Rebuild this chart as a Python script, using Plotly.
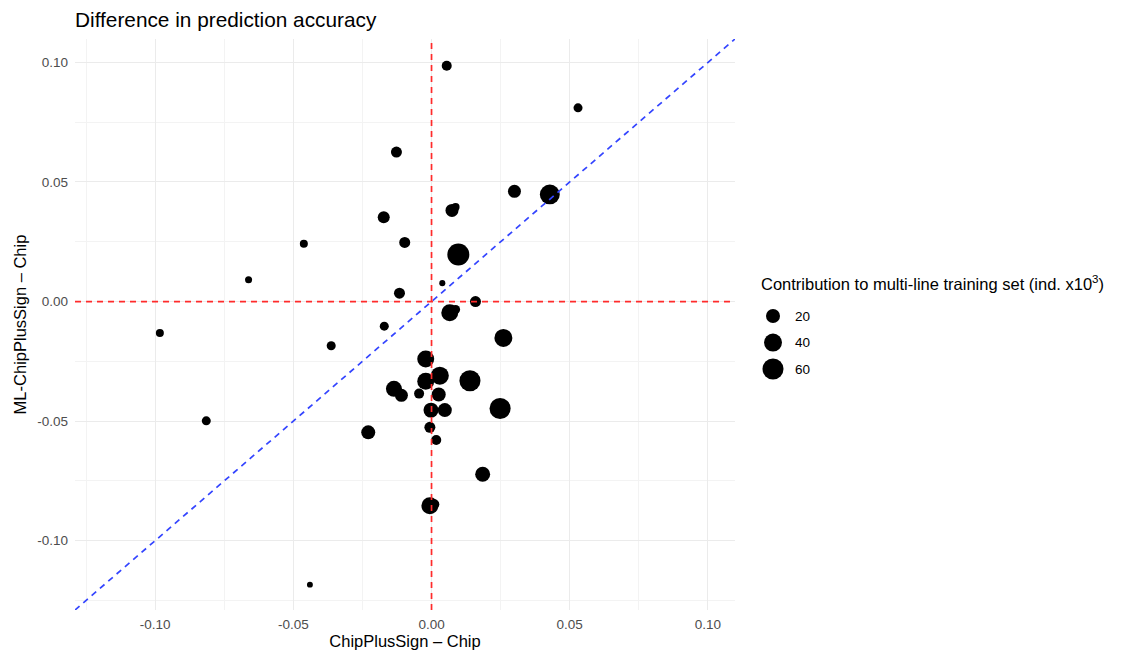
import numpy as np
import plotly.graph_objects as go

# ---- data ----
x_diff = [0.0055, 0.0530, -0.0127, 0.0300, 0.0428, -0.0173, 0.0074, 0.0087,
          -0.0462, -0.0097, 0.0097, -0.0662, 0.0039, -0.0116, 0.0159, 0.0066,
          0.0087, -0.0171, -0.0983, -0.0363, 0.0260, -0.0021, 0.0030, 0.0139,
          -0.0021, -0.0136, -0.0109, -0.0045, 0.0026, -0.0002, 0.0048, 0.0248,
          -0.0815, -0.0229, -0.0006, 0.0017, 0.0185, -0.0006, 0.0010, -0.0440]
y_diff = [0.0986, 0.0810, 0.0625, 0.0461, 0.0448, 0.0353, 0.0381, 0.0395,
          0.0242, 0.0247, 0.0197, 0.0091, 0.0077, 0.0035, 0.0000, -0.0047,
          -0.0033, -0.0103, -0.0132, -0.0185, -0.0152, -0.0240, -0.0310, -0.0331,
          -0.0333, -0.0365, -0.0392, -0.0385, -0.0389, -0.0454, -0.0454, -0.0447,
          -0.0499, -0.0547, -0.0526, -0.0579, -0.0722, -0.0854, -0.0848, -0.1184]
contrib = [6.8, 4.6, 9.4, 16.0, 52.0, 12.5, 16.0, 2.8,
           2.8, 9.4, 67.0, 1.5, 0.6, 9.4, 9.4, 34.0,
           4.6, 4.6, 2.8, 4.6, 40.0, 34.0, 40.0, 60.0,
           34.0, 29.0, 16.0, 6.8, 20.0, 24.0, 20.0, 60.0,
           4.6, 20.0, 9.4, 6.8, 24.0, 34.0, 6.8, 0.5]

legend_values = [20, 40, 60]
legend_labels = ["20", "40", "60"]
tick_vals = [-0.10, -0.05, 0.00, 0.05, 0.10]
tick_text = ["-0.10", "-0.05", "0.00", "0.05", "0.10"]
axis_range = [-0.129, 0.1098]

title_text = "Difference in prediction accuracy"
x_title = "ChipPlusSign \u2013 Chip"
y_title = "ML-ChipPlusSign \u2013 Chip"
size_title = "Contribution to multi-line training set (ind. x10<sup>3</sup>)"


def size_px(v):
    # area-style size scale (diameter linear in sqrt of value), like ggplot's scale_size
    return 4.4 + 2.15 * np.sqrt(np.asarray(v, dtype=float))


FONT = "Liberation Sans, Arial, Helvetica, sans-serif"
GRID = "#EBEBEB"
TICKC = "#4D4D4D"
RED = "#FF2B2B"
BLUE = "#3344FF"

# page has an 8px body offset; layout numbers below are figure pixels
ML, MT, MR = 67, 31, 10
PW = 1125 - ML - MR          # paper width
PH = 571                     # plot height
MB = 653 - MT - PH

fig = go.Figure()

fig.add_trace(go.Scatter(
    x=x_diff, y=y_diff, mode="markers",
    marker=dict(size=size_px(contrib), color="black", line=dict(width=0), opacity=1),
    showlegend=False, hoverinfo="x+y",
))

# size legend keys drawn on a hidden helper axis
rows = list(range(len(legend_values)))
fig.add_trace(go.Scatter(
    x=[0] * len(legend_values), y=rows, mode="markers", cliponaxis=False,
    marker=dict(size=size_px(legend_values), color="black", line=dict(width=0), opacity=1),
    xaxis="x2", yaxis="y2", showlegend=False, hoverinfo="skip",
))
for r, lab in zip(rows, legend_labels):
    fig.add_annotation(x=20, y=r, xref="x2", yref="y2", text=lab, showarrow=False,
                       xanchor="left", yanchor="middle",
                       font=dict(family=FONT, size=13.5, color="black"))

fig.add_annotation(x=(751 - ML) / PW, y=(MT + PH - 275) / PH, xref="paper", yref="paper",
                   text=size_title, showarrow=False, xanchor="left", yanchor="middle",
                   font=dict(family=FONT, size=16.5, color="black"))

# reference lines
fig.add_shape(type="line", x0=axis_range[0], y0=axis_range[0], x1=axis_range[1], y1=axis_range[1],
              xref="x", yref="y", layer="above",
              line=dict(color=BLUE, width=1.7, dash="6px,5px"))
fig.add_hline(y=0, layer="above", line=dict(color=RED, width=1.7, dash="6px,5px"))
fig.add_vline(x=0, layer="above", line=dict(color=RED, width=1.7, dash="6px,5px"))

axis_common = dict(
    range=axis_range, tickmode="array", tickvals=tick_vals, ticktext=tick_text,
    showgrid=True, gridcolor=GRID, gridwidth=1.1, zeroline=False, showline=False,
    ticks="", tickfont=dict(family=FONT, size=13.5, color=TICKC), automargin=False,
    minor=dict(tickmode="linear", tick0=0, dtick=0.025, showgrid=True,
               gridcolor="#F3F3F3", gridwidth=0.6),
)

leg_x0 = 0.66
leg_off = 765 - (ML + leg_x0 * PW)   # key column position within helper axis

fig.update_layout(
    width=1125, height=653,
    margin=dict(l=ML, r=MR, t=MT, b=MB),
    paper_bgcolor="white", plot_bgcolor="white",
    font=dict(family=FONT, color="black"),
    title=dict(text=title_text, x=0, xref="paper", xanchor="left",
               y=1 - 12 / 653, yref="container", yanchor="middle",
               font=dict(family=FONT, size=20.8, color="black")),
    xaxis=dict(domain=[0, 660 / PW], anchor="y",
               title=dict(text=x_title, font=dict(family=FONT, size=16.5, color="black"), standoff=4),
               ticklabelstandoff=4, **axis_common),
    yaxis=dict(domain=[0, 1], anchor="x",
               title=dict(text=y_title, font=dict(family=FONT, size=16.5, color="black"), standoff=6),
               ticklabelstandoff=6, **axis_common),
    xaxis2=dict(domain=[leg_x0, 1.0], range=[-leg_off, (1 - leg_x0) * PW - leg_off],
                visible=False, anchor="y2"),
    yaxis2=dict(domain=[0, 1], range=[11.09, -10.45], visible=False, anchor="x2"),
)

fig.write_html("out.html")
